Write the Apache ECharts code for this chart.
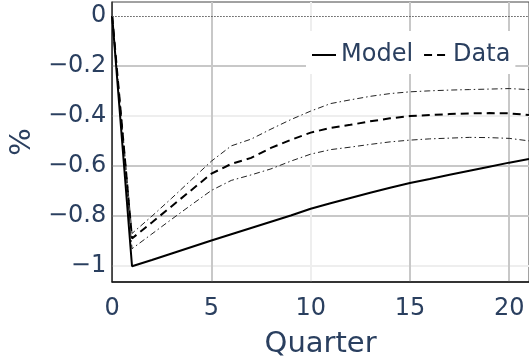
<!DOCTYPE html>
<html>
<head>
<meta charset="utf-8">
<script src="https://cdn.jsdelivr.net/npm/echarts@6/dist/echarts.min.js"></script>
<style>
  html, body { margin: 0; padding: 0; background: #ffffff; }
  #chart { width: 529px; height: 364px; }
</style>
</head>
<body>
<div id="chart"></div>
<script>
// Impulse responses (in %) by quarter after the shock
const quarters = [0, 1, 2, 3, 4, 5, 6, 7, 8, 9, 10, 11, 12, 13, 14, 15, 16, 17, 18, 19, 20, 21];
const modelIrf = [0, -1.0, -0.975, -0.949, -0.923, -0.897, -0.872, -0.847, -0.822, -0.797, -0.770,
  -0.748, -0.727, -0.706, -0.686, -0.667, -0.651, -0.634, -0.618, -0.602, -0.586, -0.571];
const dataMedian = [0, -0.889, -0.825, -0.760, -0.695, -0.630, -0.591, -0.567, -0.527, -0.495, -0.466,
  -0.447, -0.435, -0.421, -0.409, -0.400, -0.396, -0.392, -0.389, -0.388, -0.389, -0.396];
const dataUpper = [0, -0.869, -0.800, -0.728, -0.654, -0.580, -0.519, -0.492, -0.452, -0.414, -0.380,
  -0.350, -0.335, -0.321, -0.310, -0.303, -0.299, -0.296, -0.294, -0.292, -0.290, -0.294];
const dataLower = [0, -0.930, -0.871, -0.812, -0.754, -0.697, -0.657, -0.635, -0.611, -0.580, -0.552,
  -0.534, -0.524, -0.513, -0.503, -0.496, -0.491, -0.488, -0.485, -0.486, -0.489, -0.499];

// Axis tick values
const xTicks = [0, 5, 10, 15, 20];
const yTicks = [-1, -0.8, -0.6, -0.4, -0.2, 0];

const pairs = (ys) => quarters.map((q, i) => [q, ys[i]]);
const fmt = (v) => (v === 0 ? '0' : String(v).replace('-', '\u2212'));

const FONT = 'DejaVu Sans';
const INK = '#2a3f5f';
const GRID_MAIN = '#c8c8c8';
const GRID_FAINT = '#eeeeee';
const BAND_DASH = [6, 3, 1.5, 3];

const chart = echarts.init(document.getElementById('chart'), null, { renderer: 'canvas' });

chart.setOption({
  animation: false,
  backgroundColor: '#ffffff',
  grid: {
    left: 109.5, top: 2, width: 421.5, height: 282,
    show: true, borderColor: '#444444', borderWidth: 1, backgroundColor: '#ffffff'
  },
  legend: {
    data: ['Model', 'Data'],
    left: 306, top: 31,
    padding: [12, 5, 7, 5],
    itemWidth: 24, itemHeight: 12, itemGap: 10,
    backgroundColor: '#ffffff',
    itemStyle: { opacity: 0, borderWidth: 0 },
    textStyle: { fontFamily: FONT, fontSize: 24, color: INK }
  },
  xAxis: {
    type: 'value', min: 0, max: 21,
    name: 'Quarter', nameLocation: 'middle', nameGap: 48,
    nameTextStyle: { fontFamily: FONT, fontSize: 29, color: INK },
    axisLine: { show: true, onZero: false, lineStyle: { color: '#111111', width: 1.5 } },
    axisTick: { show: false, customValues: xTicks },
    axisLabel: { customValues: xTicks, fontFamily: FONT, fontSize: 24, color: INK, margin: 15, formatter: fmt },
    splitLine: { show: true, lineStyle: { width: 2, color: ['rgba(0,0,0,0)', GRID_MAIN, GRID_FAINT, GRID_MAIN, GRID_MAIN] } }
  },
  yAxis: {
    type: 'value', min: -1.063, max: 0.056,
    name: '%', nameLocation: 'middle', nameGap: 72,
    nameTextStyle: { fontFamily: FONT, fontSize: 29, color: INK },
    axisLine: { show: true, onZero: false, lineStyle: { color: '#333333', width: 1.5 } },
    axisTick: { show: false, customValues: yTicks },
    axisLabel: { customValues: yTicks, fontFamily: FONT, fontSize: 24, color: INK, margin: 6, formatter: fmt },
    splitLine: { show: true, lineStyle: { width: 2, color: [GRID_FAINT, GRID_MAIN, GRID_MAIN, GRID_FAINT, GRID_MAIN, 'rgba(0,0,0,0)'] } }
  },
  series: [
    {
      name: 'Data upper', type: 'line', data: pairs(dataUpper), symbol: 'none',
      itemStyle: { color: '#222222' },
      lineStyle: { color: '#222222', width: 1, type: BAND_DASH },
      markLine: {
        silent: true, symbol: ['none', 'none'], label: { show: false },
        lineStyle: { color: '#555555', width: 1.2, type: [1.5, 1.5] },
        data: [{ yAxis: 0 }]
      }
    },
    {
      name: 'Data lower', type: 'line', data: pairs(dataLower), symbol: 'none',
      itemStyle: { color: '#222222' },
      lineStyle: { color: '#222222', width: 1, type: BAND_DASH }
    },
    {
      name: 'Data', type: 'line', data: pairs(dataMedian), symbol: 'none',
      itemStyle: { color: '#000000' },
      lineStyle: { color: '#000000', width: 2, type: [8, 5] }
    },
    {
      name: 'Model', type: 'line', data: pairs(modelIrf), symbol: 'none',
      itemStyle: { color: '#000000' },
      lineStyle: { color: '#000000', width: 2, type: 'solid' }
    }
  ]
});
</script>
</body>
</html>
